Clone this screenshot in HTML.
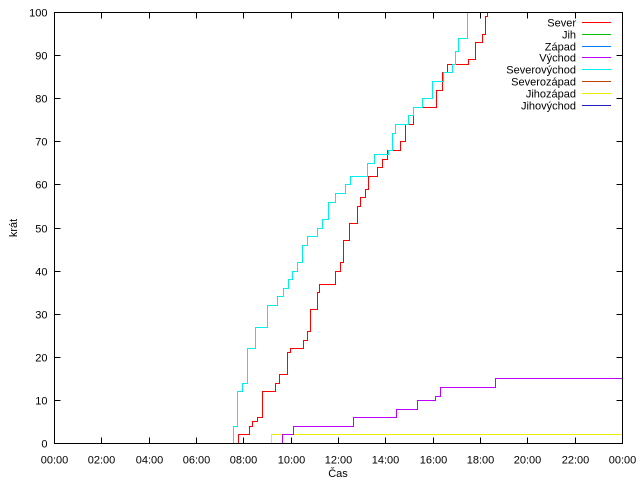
<!DOCTYPE html>
<html><head><meta charset="utf-8"><style>
body{margin:0;background:#fff}
text{font-family:"Liberation Sans",sans-serif;font-size:11px;fill:#000}
path,line,rect{shape-rendering:crispEdges}
</style></head><body>
<svg id="c" width="640" height="480" xmlns="http://www.w3.org/2000/svg"></svg>
<script>
const xTickLabels=["00:00","02:00","04:00","06:00","08:00","10:00","12:00","14:00","16:00","18:00","20:00","22:00","00:00"];
const yTickLabels=[0,10,20,30,40,50,60,70,80,90,100];
const legendNames=["Sever","Jih","Západ","Východ","Severovýchod","Severozápad","Jihozápad","Jihovýchod"];
const legendColors=["#ff0000","#00c000","#0080ff","#c000ff","#00eeee","#c04000","#eeee00","#2020c0"];
const severT=[7.79,8.25,8.35,8.56,8.77,9.34,9.52,9.83,9.97,10.51,10.68,10.82,11.10,11.21,11.87,12.08,12.22,12.48,12.79,12.93,13.14,13.28,13.63,13.84,14.06,14.62,14.83,15.15,16.14,16.38,16.59,17.51,17.79,18.07,18.21,18.28];
const severV=[2,4,5,6,12,14,16,21,22,24,26,31,35,37,40,42,47,51,55,57,59,62,64,66,68,70,74,78,82,86,88,89,93,95,99,101];
const svT=[7.37,7.58,7.72,7.93,8.14,8.49,8.99,9.44,9.69,9.90,10.04,10.25,10.46,10.68,11.10,11.31,11.59,11.87,12.30,12.51,13.21,13.52,14.13,14.27,14.41,14.97,15.18,15.54,15.96,16.45,16.80,16.94,17.08,17.44];
const svV=[0,4,12,14,22,27,32,34,36,38,40,42,46,48,50,52,56,58,60,62,65,67,68,72,74,76,78,80,84,86,88,91,94,101];
const vychodT=[9.62,10.11,12.62,14.43,15.32,16.10,16.31,18.63];
const vychodV=[2,4,6,8,10,11,13,15];
const jzT=[9.17];
const jzV=[2];
const svg=document.getElementById('c'),NS="http://www.w3.org/2000/svg";
const L=54.5,R=622.5,T=12.5,B=443.5;
const X=h=>Math.round(L+h/24*(R-L)-0.5)+0.5, Y=v=>Math.round(B-v/100*(B-T)-0.5)+0.5;
function mk(t,a){const e=document.createElementNS(NS,t);for(const k in a)e.setAttribute(k,a[k]);svg.appendChild(e);return e;}
const defs=mk('defs',{});
const cp=document.createElementNS(NS,'clipPath');cp.setAttribute('id','cl');
const cr=document.createElementNS(NS,'rect');cr.setAttribute('x',L);cr.setAttribute('y',T);cr.setAttribute('width',R-L);cr.setAttribute('height',B-T);cp.appendChild(cr);defs.appendChild(cp);
yTickLabels.forEach((v,i)=>{
 const y=Y(v);
 const t=mk('path',{d:`M${L},${y}h6M${R},${y}h-6`,stroke:'#000','stroke-width':1});
 
 const tx=mk('text',{x:L-7,y:y+4,'text-anchor':'end'});tx.textContent=v;
 
});
xTickLabels.forEach((s,i)=>{
 const x=X(i*2);
 const t=mk('path',{d:`M${x},${B}v-6M${x},${T}v6`,stroke:'#000','stroke-width':1});
 
 const tx=mk('text',{x:x,y:B+20,'text-anchor':'middle'});tx.textContent=s;
 
});
function series(ts,vs,col,name,endH){
 let d=`M${X(ts[0])},${Y(0)}`;
 ts.forEach((t,i)=>{d+=`H${X(t)}V${Y(vs[i])}`;});
 d+=`H${X(endH)}`;
 const p=mk('path',{d:d,fill:'none',stroke:col,'stroke-width':1,'clip-path':'url(#cl)'});
 
}
series(jzT,jzV,'#eeee00','series-jihozapad',24);
series(vychodT,vychodV,'#c000ff','series-vychod',24);
series(severT,severV,'#ff0000','series-sever',severT[severT.length-1]);
series(svT,svV,'#00eeee','series-severovychod',svT[svT.length-1]);
const fr=mk('rect',{x:L,y:T,width:R-L,height:B-T,fill:'none',stroke:'#000','stroke-width':1});

legendNames.forEach((n,i)=>{
 const y=Math.round(22+i*11.8)+0.5;
 const tx=mk('text',{x:576,y:y+4,'text-anchor':'end'});tx.textContent=n;
 
 const ln=mk('line',{x1:582,x2:611,y1:y,y2:y,stroke:legendColors[i],'stroke-width':1});
 
});
const xl=mk('text',{x:338,y:477,'text-anchor':'middle'});xl.textContent='Čas';

const yl=mk('text',{x:0,y:0,'text-anchor':'middle',transform:'translate(17,228) rotate(-90)'});yl.textContent='krát';

</script>
</body></html>
